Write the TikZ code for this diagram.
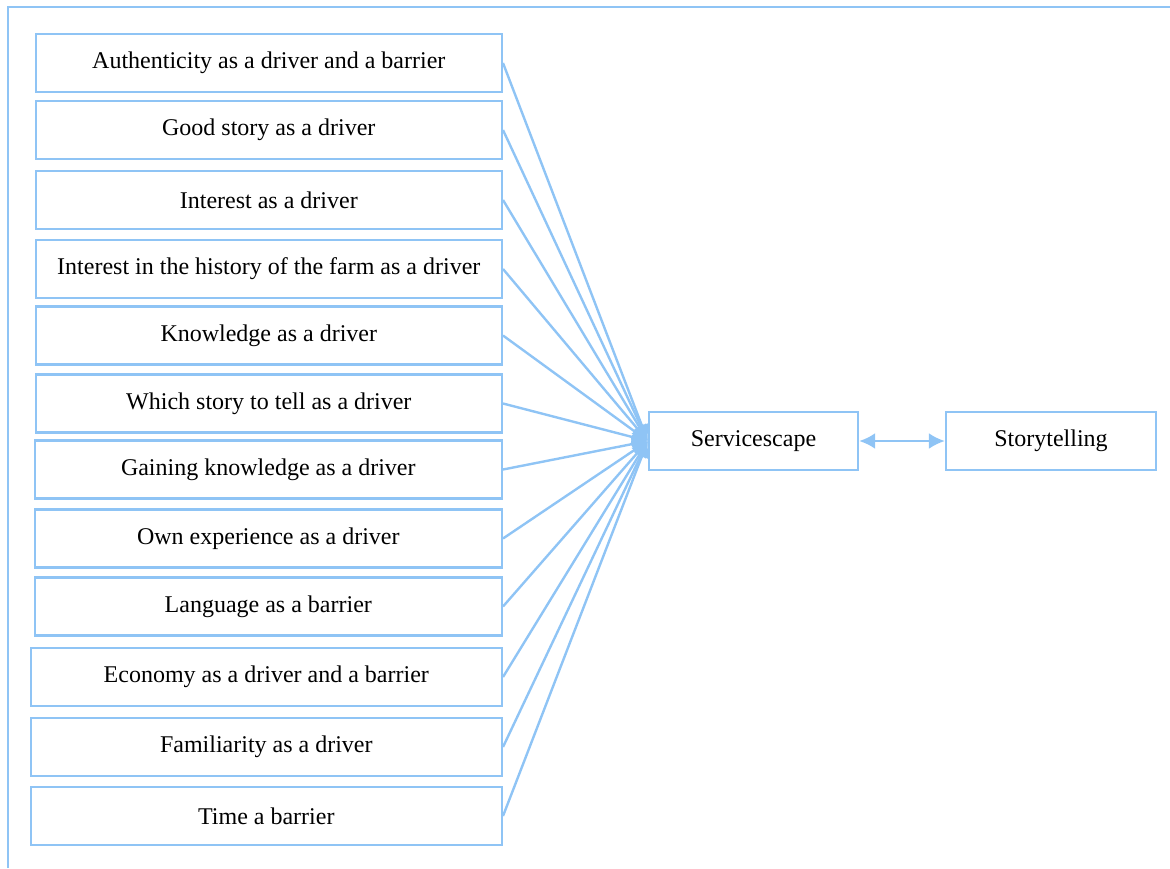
\documentclass[tikz,border=0pt]{standalone}
\usepackage{fontspec}
\setmainfont{Liberation Serif}
\usetikzlibrary{arrows.meta}
\definecolor{frameblue}{RGB}{143,196,245}
\begin{document}
\begin{tikzpicture}[x=0.5pt, y=-0.5pt,
    theme/.style={draw=frameblue, line width=1.2pt, minimum height=29pt,
      inner sep=0pt, anchor=east, font=\fontsize{12}{14}\selectfont},
    link/.style={frameblue, line width=1.2pt, -{Latex[length=8pt, width=8pt]}}]
  \useasboundingbox (0,0) rectangle (1170,868);
  % outer frame, cut off on the right and at the bottom
  \draw[frameblue, line width=1.2pt] (8,868) -- (8,7) -- (1170,7);
  % themes on the left: label / centre y / left edge
  \foreach \txt/\ymid/\xl [count=\i] in {
      Authenticity as a driver and a barrier/63/37,
      Good story as a driver/130/37,
      Interest as a driver/200/37,
      Interest in the history of the farm as a driver/269/37,
      Knowledge as a driver/335.5/37,
      Which story to tell as a driver/403.5/37,
      Gaining knowledge as a driver/469.5/36,
      Own experience as a driver/538.5/36,
      Language as a barrier/606.5/36,
      Economy as a driver and a barrier/677/32,
      Familiarity as a driver/747/32,
      Time a barrier/816/32}
    \node[theme, minimum width={(503-\xl)*0.5pt}] (t\i) at (503,\ymid) {\txt};
  \node[theme, anchor=center, minimum width=104.5pt] (serv) at (753.5,441) {Servicescape};
  \node[theme, anchor=center, minimum width=105pt] (story) at (1051,441) {Storytelling};
  \foreach \i in {1,...,12}
    \draw[link] (t\i.east) -- (serv.west);
  \draw[link, {Latex[length=8pt, width=8pt]}-{Latex[length=8pt, width=8pt]}]
    (serv.east) -- (story.west);
\end{tikzpicture}
\end{document}
